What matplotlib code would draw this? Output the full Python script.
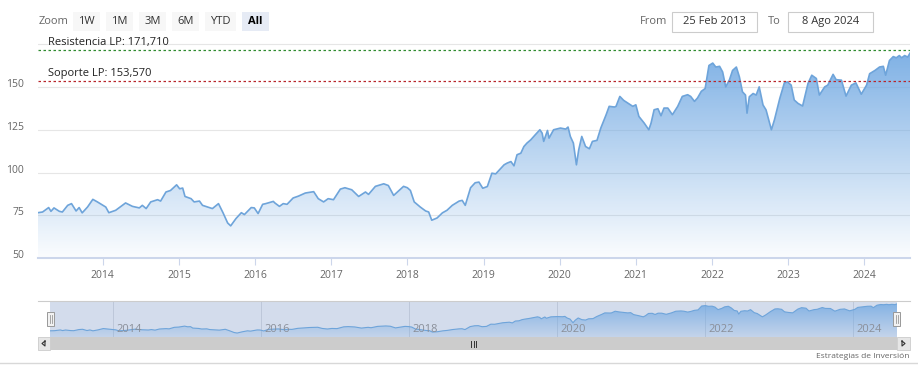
import numpy as np
import matplotlib
matplotlib.use("Agg")
import matplotlib.pyplot as plt
from matplotlib.patches import Rectangle
from matplotlib.transforms import ScaledTranslation

plt.rcParams['font.family'] = ['Open Sans', 'DejaVu Sans']

# %% Data (decimal years)
t_year = [
    2013.15, 2013.21, 2013.29, 2013.32, 2013.36, 2013.43, 2013.47, 2013.54, 2013.59, 2013.65, 2013.69, 2013.73, 2013.80, 2013.87, 2013.93,
    2014.04, 2014.08, 2014.17, 2014.30, 2014.39, 2014.48, 2014.52, 2014.57, 2014.63, 2014.72, 2014.76, 2014.83, 2014.89, 2014.97,
    2015.01, 2015.05, 2015.08, 2015.16, 2015.20, 2015.27, 2015.31, 2015.40, 2015.44, 2015.52, 2015.58, 2015.64, 2015.68, 2015.75, 2015.82, 2015.86, 2015.95, 2015.99,
    2016.04, 2016.10, 2016.14, 2016.24, 2016.26, 2016.32, 2016.37, 2016.42, 2016.50, 2016.57, 2016.66, 2016.77, 2016.83, 2016.90, 2016.96,
    2017.03, 2017.12, 2017.18, 2017.27, 2017.36, 2017.45, 2017.49, 2017.58, 2017.69, 2017.75, 2017.82, 2017.89, 2017.95,
    2018.00, 2018.04, 2018.09, 2018.17, 2018.24, 2018.28, 2018.32, 2018.39, 2018.46, 2018.52, 2018.59, 2018.68, 2018.72, 2018.76, 2018.83, 2018.89, 2018.94, 2018.99,
    2019.05, 2019.11, 2019.16, 2019.27, 2019.31, 2019.36, 2019.40, 2019.44, 2019.49, 2019.53, 2019.57, 2019.62, 2019.68, 2019.74, 2019.77, 2019.79, 2019.84, 2019.86, 2019.92,
    2020.01, 2020.08, 2020.11, 2020.14, 2020.18, 2020.22, 2020.25, 2020.29, 2020.34, 2020.39, 2020.43, 2020.49, 2020.54, 2020.61, 2020.65, 2020.72, 2020.74, 2020.79, 2020.84, 2020.91, 2020.96,
    2021.00, 2021.04, 2021.11, 2021.17, 2021.20, 2021.24, 2021.29, 2021.33, 2021.37, 2021.42, 2021.48, 2021.55, 2021.61, 2021.68, 2021.72, 2021.77, 2021.81, 2021.86, 2021.91, 2021.96,
    2022.01, 2022.05, 2022.10, 2022.14, 2022.18, 2022.23, 2022.27, 2022.32, 2022.36, 2022.40, 2022.44, 2022.46, 2022.49, 2022.54, 2022.58, 2022.62, 2022.67, 2022.71, 2022.78, 2022.82, 2022.89, 2022.95, 2022.99,
    2023.04, 2023.08, 2023.13, 2023.19, 2023.26, 2023.31, 2023.37, 2023.41, 2023.48, 2023.52, 2023.59, 2023.63, 2023.70, 2023.76, 2023.83, 2023.89, 2023.96,
    2024.03, 2024.07, 2024.14, 2024.20, 2024.25, 2024.28, 2024.33, 2024.38, 2024.42, 2024.46, 2024.49, 2024.53, 2024.57, 2024.60,
]
price = [
    76.5, 76.9, 79.5, 77.3, 79.3, 77.3, 76.9, 80.8, 81.8, 77.5, 79.5, 76.4, 79.8, 84.3, 82.8,
    79.8, 76.5, 77.9, 82.2, 80.2, 79.3, 80.8, 78.9, 82.8, 84.1, 83.3, 88.6, 89.5, 92.8,
    90.5, 90.9, 86.0, 84.7, 82.8, 83.3, 80.8, 79.5, 78.9, 81.8, 76.4, 70.5, 68.8, 73.1, 76.5, 75.4, 79.5, 79.3,
    76.0, 81.4, 81.8, 83.1, 82.2, 80.2, 81.8, 81.4, 85.1, 86.2, 88.0, 88.8, 84.7, 82.8, 84.7,
    84.1, 90.3, 91.1, 89.9, 86.0, 88.6, 87.2, 91.9, 93.4, 92.4, 86.6, 89.5, 91.9,
    91.1, 89.5, 82.8, 79.8, 77.5, 76.9, 72.1, 73.4, 76.4, 77.9, 80.8, 83.3, 83.7, 80.8, 91.1, 94.0, 94.4, 90.8,
    91.8, 99.6, 99.2, 104.5, 105.5, 106.4, 103.9, 110.4, 111.3, 115.2, 117.2, 119.1, 122.1, 125.0, 123.0, 118.2, 124.6, 120.1, 125.0,
    126.0, 125.4, 126.6, 121.1, 117.2, 104.5, 113.3, 121.1, 115.2, 113.9, 118.2, 118.8, 126.0, 133.8, 138.7, 138.3, 138.7, 144.5, 142.2, 140.2, 138.7,
    139.6, 132.8, 128.9, 125.0, 128.9, 136.7, 137.3, 133.2, 137.7, 137.7, 133.8, 138.7, 144.5, 145.5, 144.5, 141.6, 143.6, 147.5, 149.1, 162.6,
    164.0, 161.7, 162.1, 158.8, 150.1, 154.3, 159.7, 161.7, 155.9, 147.2, 145.3, 134.7, 144.3, 146.2, 145.3, 150.1, 139.5, 136.6, 125.0, 130.8, 143.3, 152.4, 153.0,
    151.1, 142.4, 140.4, 138.9, 152.0, 156.9, 155.0, 145.3, 150.1, 151.1, 157.4, 154.3, 154.0, 144.7, 151.1, 152.4, 145.8,
    151.1, 157.8, 159.7, 161.7, 162.1, 156.9, 165.5, 167.8, 167.1, 168.4, 167.1, 168.4, 167.5, 169.8,
]

resistencia = 171.710
soporte = 153.570
year_ticks = list(range(2014, 2025))
nav_ticks = [2014, 2016, 2018, 2020, 2022, 2024]
y_ticks = [50, 75, 100, 125, 150, 175]
y_labels = ['50', '75', '100', '125', '150', '']
zoom_buttons = ['1W', '1M', '3M', '6M', 'YTD', 'All']
date_from = '25 Feb 2013'
date_to = '8 Ago 2024'

# %% Figure setup
W, H = 918, 377
fig = plt.figure(figsize=(W / 100, H / 100), dpi=100)
fig.patch.set_facecolor('white')

def box(x0, y0, x1, y1):
    # pixel box (top-left origin) -> figure fraction rect
    return [x0 / W, 1 - y1 / H, (x1 - x0) / W, (y1 - y0) / H]

def gradient(a0, a1):
    g = np.zeros((256, 1, 4))
    g[..., :3] = fill_col
    g[:, 0, 3] = np.linspace(a0, a1, 256)
    return g

line_col = '#6ea4da'
fill_col = np.array([0.44, 0.66, 0.89])
x0, x1 = t_year[0], t_year[-1]

# %% Main chart
ax = fig.add_axes(box(38, 40, 910, 258))
ax.set_xlim(x0, x1)
ax.set_ylim(50, 177.5)

poly = ax.fill_between(t_year, price, 50, facecolor='none', edgecolor='none')
img = ax.imshow(gradient(0.03, 0.95), extent=[x0, x1, 50, 177.5], aspect='auto', origin='lower', zorder=1)
img.set_clip_path(poly.get_paths()[0], transform=ax.transData)
ax.plot(t_year, price, color=line_col, lw=1.2, zorder=3)

ax.axhline(resistencia, color='#2e8b2e', lw=0.9, ls=(0, (2, 2)), zorder=4)
ax.axhline(soporte, color='#b8262b', lw=0.9, ls=(0, (2, 2)), zorder=4)
ax.text(x0 + 0.13, resistencia + 1.2, f'Resistencia LP: {resistencia:,.3f}'.replace('.', ','),
        fontsize=8, color='#222222', va='bottom', zorder=5)
ax.text(x0 + 0.13, soporte + 1.2, f'Soporte LP: {soporte:,.3f}'.replace('.', ','),
        fontsize=8, color='#222222', va='bottom', zorder=5)

ax.set_yticks(y_ticks)
ax.set_yticklabels(y_labels)
ax.set_xticks(year_ticks)
ax.set_xticklabels([str(y) for y in year_ticks])
ax.grid(axis='y', color='#e6e6e6', lw=0.8, zorder=0)
ax.set_axisbelow(True)
for s in ['top', 'right', 'left']:
    ax.spines[s].set_visible(False)
ax.spines['bottom'].set_color('#ccd6eb')
ax.spines['bottom'].set_linewidth(1.5)
ax.tick_params(axis='y', length=0, pad=10, labelsize=7.5, labelcolor='#666666')
ax.tick_params(axis='x', length=5, color='#ccd6eb', pad=4, labelsize=7.5, labelcolor='#666666')
for lab in ax.get_yticklabels():
    lab.set_transform(lab.get_transform() + ScaledTranslation(0, 4 / 100, fig.dpi_scale_trans))

# %% Navigator
nav = fig.add_axes(box(50, 301, 897, 337))
nav.set_xlim(x0, x1)
nav.set_ylim(55, 180)
nav.set_facecolor('#d3dcec')
npoly = nav.fill_between(t_year, price, 55, facecolor='none', edgecolor='none')
nimg = nav.imshow(gradient(0.15, 0.85), extent=[x0, x1, 55, 180], aspect='auto', origin='lower', zorder=1)
nimg.set_clip_path(npoly.get_paths()[0], transform=nav.transData)
nav.plot(t_year, price, color=line_col, lw=0.8, zorder=3)
for yr in nav_ticks:
    nav.axvline(yr, color='#b9c3d6', lw=0.6, zorder=0.5)
    nav.text(yr + 0.05, 80, str(yr), fontsize=8, color='#8a8f99', va='center', ha='left', zorder=4)
nav.set_xticks([])
nav.set_yticks([])
for s in nav.spines.values():
    s.set_visible(False)

# %% Overlay for the UI parts (pixel coords)
ui = fig.add_axes([0, 0, 1, 1], zorder=10)
ui.set_xlim(0, W)
ui.set_ylim(H, 0)
ui.axis('off')
ui.patch.set_alpha(0)

ui.text(39, 21, 'Zoom', fontsize=8, color='#666666', va='center', ha='left')
bx = 73
for b in zoom_buttons:
    bw = 31 if b == 'YTD' else 27
    sel = b == 'All'
    ui.add_patch(Rectangle((bx, 12), bw, 19, facecolor='#e6ebf5' if sel else '#f7f7f7', edgecolor='none'))
    ui.text(bx + bw / 2, 21.5, b, fontsize=8, color='#000000' if sel else '#333333',
            fontweight='bold' if sel else 'normal', ha='center', va='center')
    bx += bw + 6

ui.text(640, 21, 'From', fontsize=8, color='#666666', va='center', ha='left')
ui.add_patch(Rectangle((672, 12), 85, 20, facecolor='white', edgecolor='#cccccc', lw=0.8))
ui.text(714.5, 21.5, date_from, fontsize=8, color='#333333', va='center', ha='center')
ui.text(768, 21, 'To', fontsize=8, color='#666666', va='center', ha='left')
ui.add_patch(Rectangle((788, 12), 85, 20, facecolor='white', edgecolor='#cccccc', lw=0.8))
ui.text(830.5, 21.5, date_to, fontsize=8, color='#333333', va='center', ha='center')

# navigator outline and handles
ui.plot([38, 910], [301, 301], color='#cccccc', lw=0.8)
for hx in [47, 893]:
    ui.add_patch(Rectangle((hx, 312), 7, 14, facecolor='#f2f2f2', edgecolor='#999999', lw=0.7))
    ui.plot([hx + 2.5, hx + 2.5], [315, 323], color='#999999', lw=0.6)
    ui.plot([hx + 4.5, hx + 4.5], [315, 323], color='#999999', lw=0.6)

# scrollbar
ui.add_patch(Rectangle((38, 337), 872, 13, facecolor='#f2f2f2', edgecolor='none'))
ui.add_patch(Rectangle((50, 337), 847, 13, facecolor='#cccccc', edgecolor='none'))
ui.add_patch(Rectangle((38, 337), 12, 13, facecolor='#e6e6e6', edgecolor='#cccccc', lw=0.6))
ui.add_patch(Rectangle((897, 337), 13, 13, facecolor='#e6e6e6', edgecolor='#cccccc', lw=0.6))
ui.plot([45, 42, 45, 45], [341, 343.5, 346, 341], color='#333333', lw=0.8)
ui.plot([902, 905, 902, 902], [341, 343.5, 346, 341], color='#333333', lw=0.8)
for gx in [471, 473.5, 476]:
    ui.plot([gx, gx], [340.5, 346.5], color='#333333', lw=0.7)

# footer
ui.plot([0, W], [363, 363], color='#d8d8d8', lw=1)
ui.text(909, 356, 'Estrategias de Inversión', fontsize=6, color='#666666', ha='right', va='center')

fig.savefig('out.png', dpi=100)
